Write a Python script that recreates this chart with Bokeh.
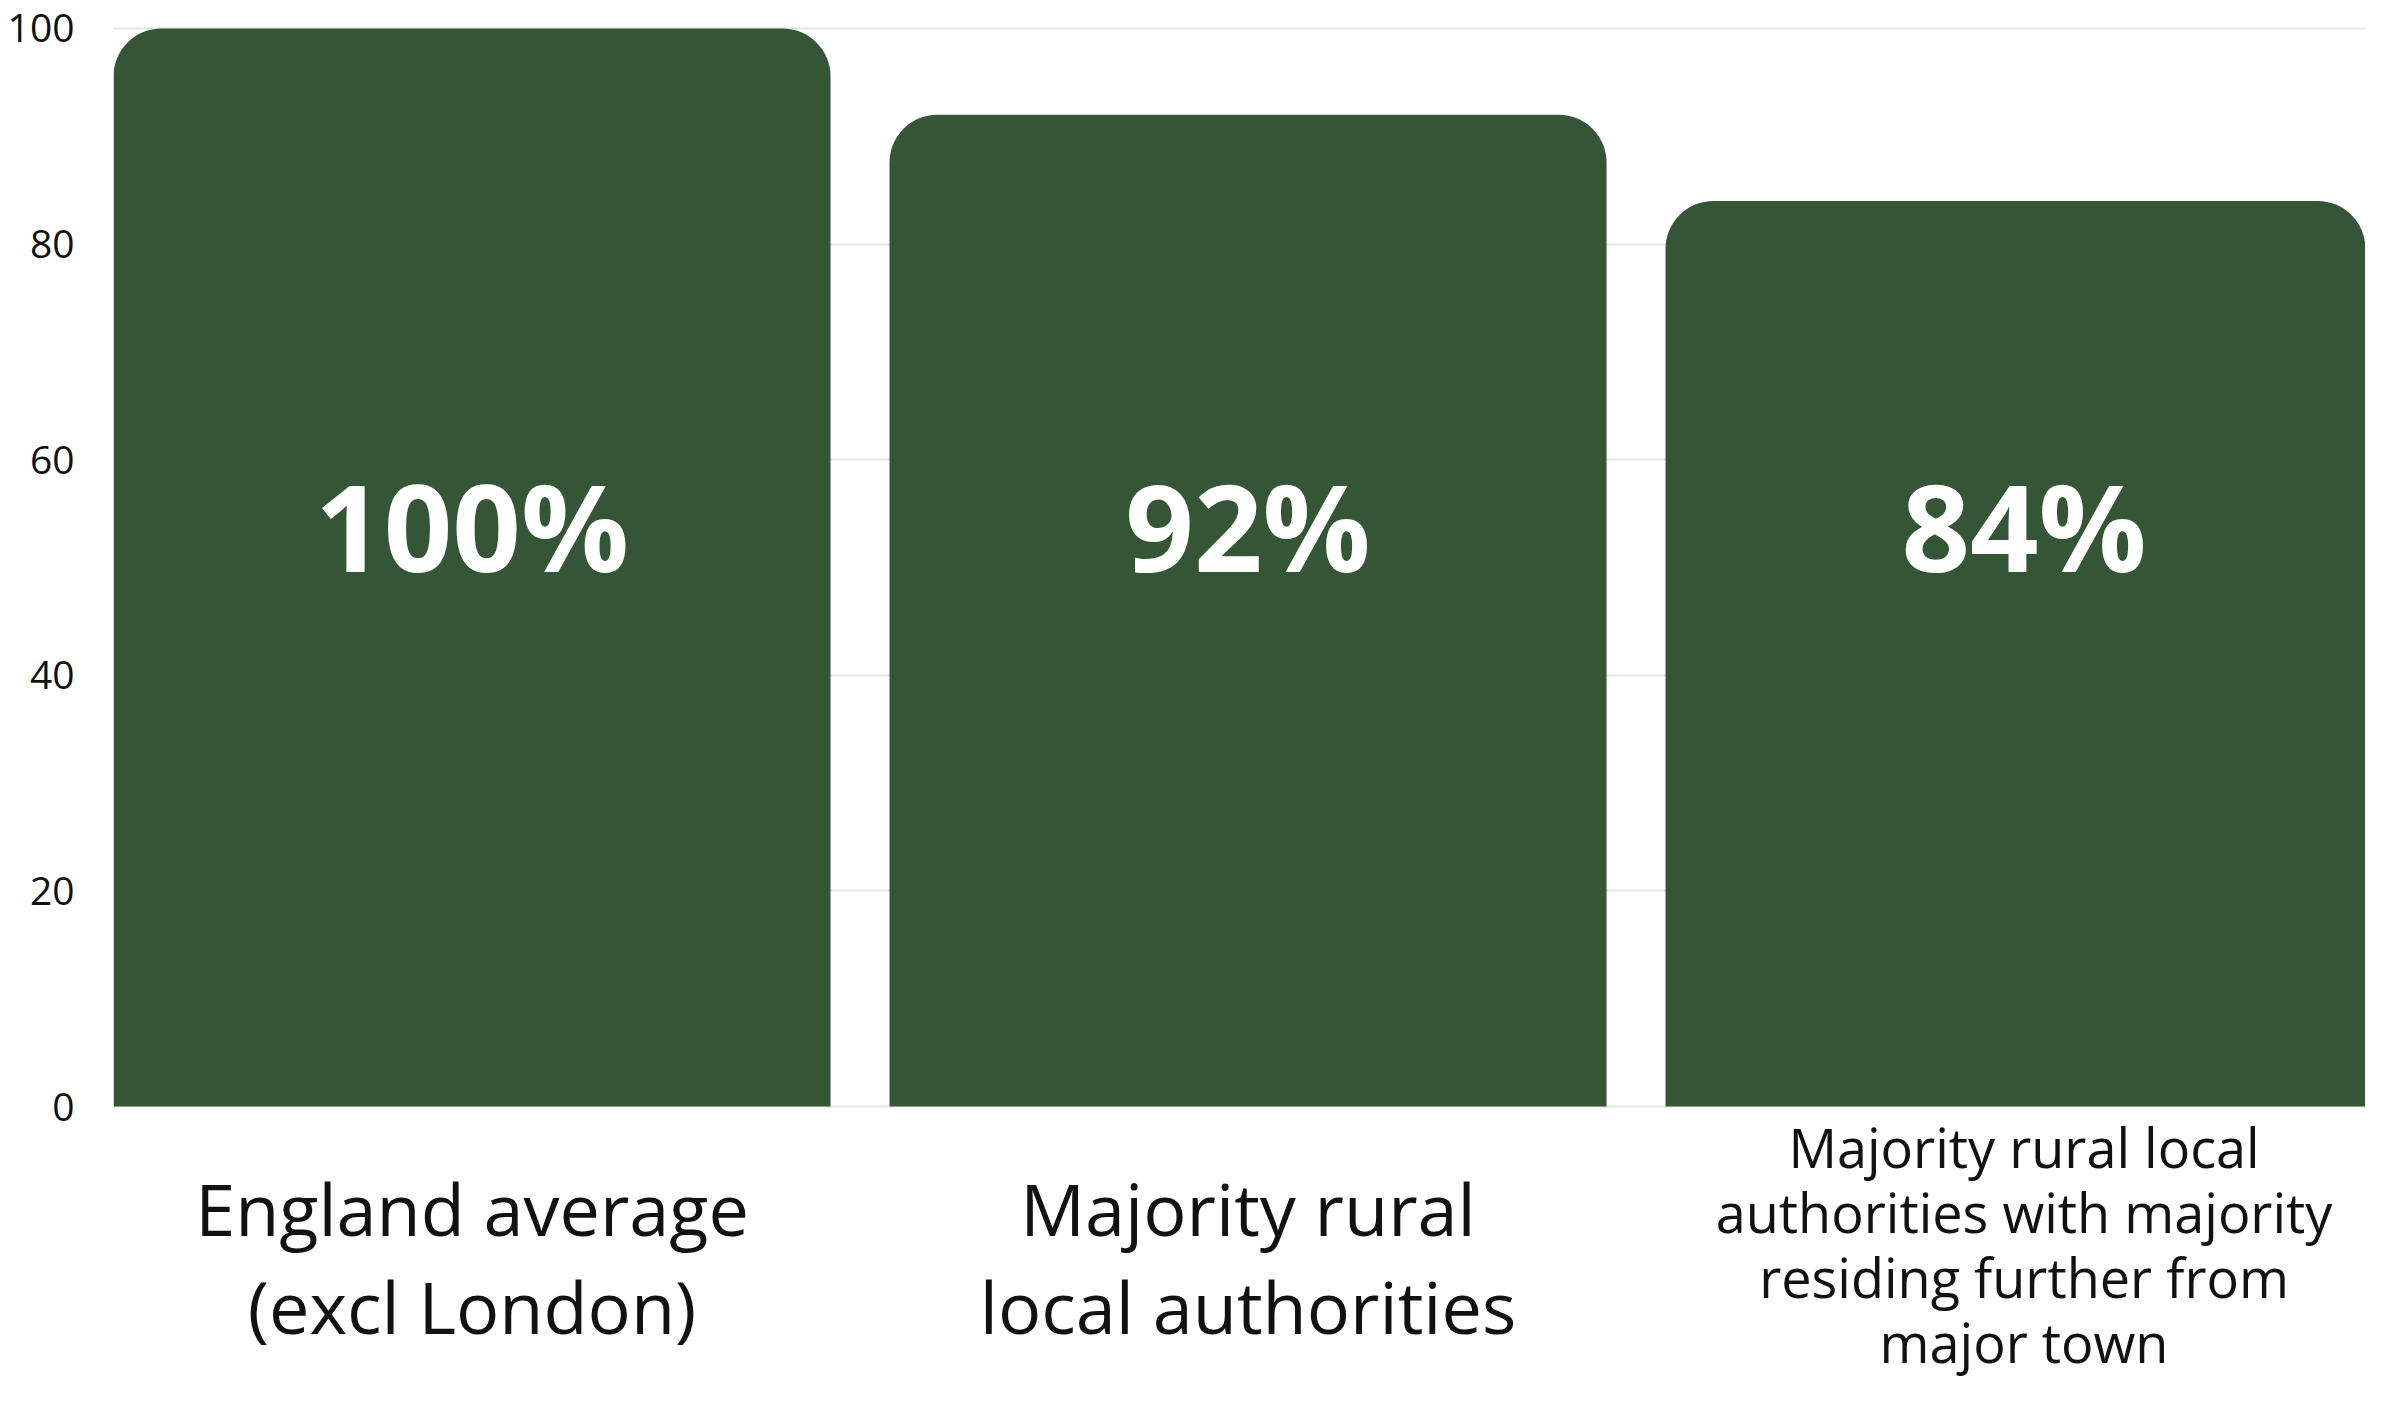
from bokeh.plotting import figure
from bokeh.models import Range1d, FixedTicker, ColumnDataSource
from bokeh.core.properties import value
from bokeh.embed import file_html
from bokeh.resources import INLINE

# ---- data ----
categories = [
    "England average\n(excl London)",
    "Majority rural\nlocal authorities",
    "Majority rural local\nauthorities with majority\nresiding further from\nmajor town",
]
values = [100, 92, 84]
value_labels = ["100%", "92%", "84%"]
y_ticks = [0, 20, 40, 60, 80, 100]

# ---- styling ----
BAR_COLOR = "#345636"
FONT = "Open Sans"
label_sizes = ["72px", "72px", "54px"]
label_line_heights = [1.0, 1.0, 0.88]
label_y = [-14.0, -14.0, -12.8]

xs = list(range(len(categories)))

p = figure(
    width=2365, height=1389,
    output_backend="svg", toolbar_location=None,
    x_range=Range1d(-0.462, 2.440),
    y_range=Range1d(-26.25, 100.46),
    min_border_left=113, min_border_right=0,
    min_border_top=23, min_border_bottom=0,
)
p.outline_line_color = None
p.background_fill_color = "white"

src = ColumnDataSource(dict(x=xs, top=values, lab=value_labels))
p.vbar(x="x", top="top", bottom=0, width=0.924, source=src,
       fill_color=BAR_COLOR, line_color=None, border_radius=(48, 48, 0, 0))

p.text(x="x", y=53.9, text="lab", source=src,
       text_color="white", text_font=value(FONT), text_font_style="bold",
       text_font_size="120px", text_align="center", text_baseline="middle")

for i, cat in enumerate(categories):
    p.text(x=[xs[i]], y=[label_y[i]], text=[cat],
           text_color="#111111", text_font=value(FONT),
           text_font_size=label_sizes[i], text_align="center",
           text_baseline="middle", text_line_height=label_line_heights[i])

p.xaxis.visible = False
p.xgrid.visible = False

p.yaxis.ticker = FixedTicker(ticks=y_ticks)
p.yaxis.axis_line_color = None
p.yaxis.major_tick_line_color = None
p.yaxis.minor_tick_line_color = None
p.yaxis.major_label_standoff = 33
p.yaxis.major_label_text_font = FONT
p.yaxis.major_label_text_font_size = "39px"
p.yaxis.major_label_text_color = "#111111"

p.ygrid.ticker = FixedTicker(ticks=y_ticks)
p.ygrid.grid_line_color = "#e6e6e6"
p.ygrid.grid_line_width = 2

open("out.html", "w").write(file_html(p, INLINE))
